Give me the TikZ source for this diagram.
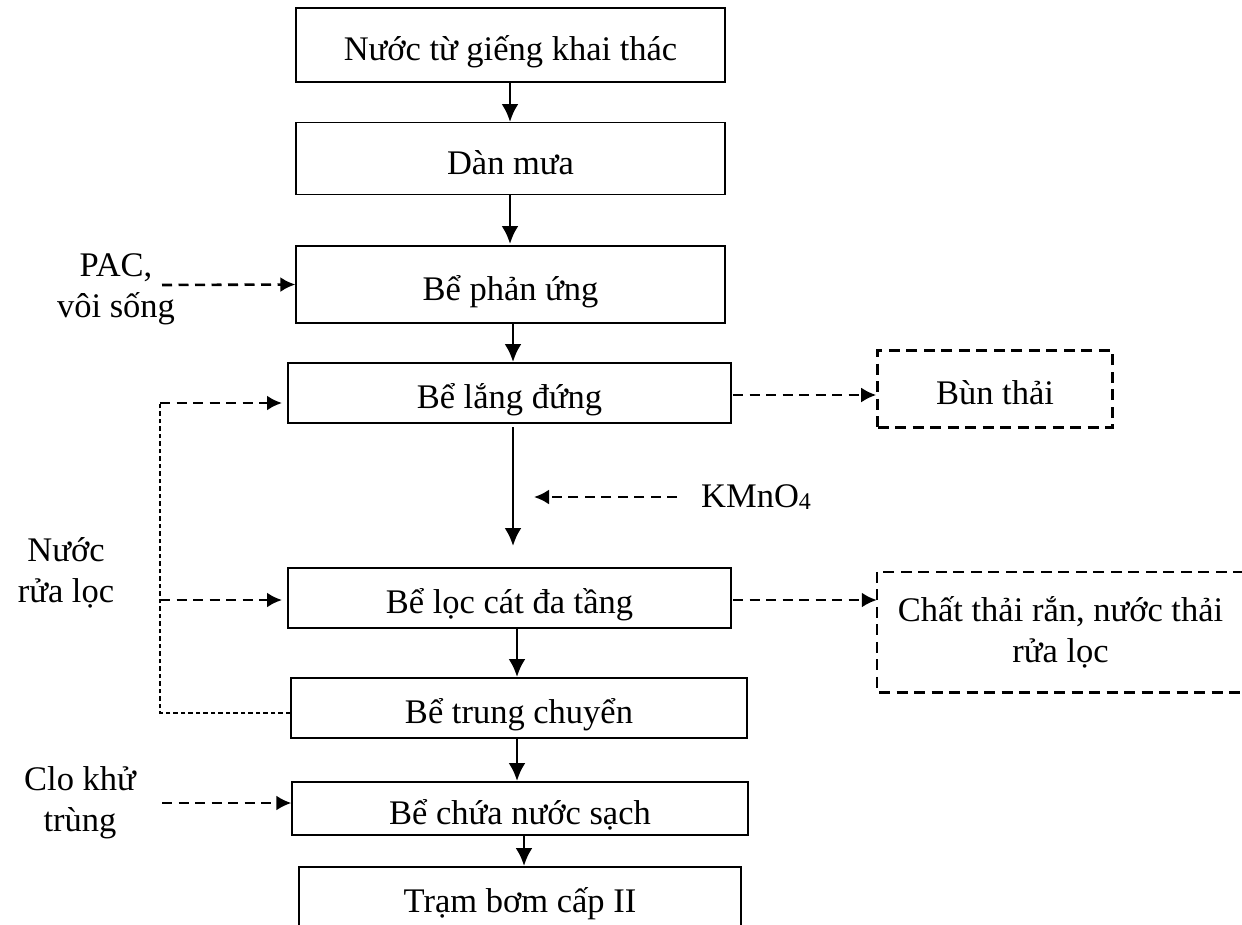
\documentclass[tikz,border=0pt]{standalone}
\usepackage{fontspec}
\setmainfont{Liberation Serif}
\usetikzlibrary{arrows.meta}
\tikzset{
  box/.style={draw, line width=1.3pt, inner sep=0pt, align=center, text height=40pt, text depth=9pt},
  wbox/.style={draw, line width=2.6pt, dash pattern=on 11pt off 6.5pt, inner sep=0pt, align=center, text height=40pt, text depth=9pt},
  flow/.style={line width=2.8pt, -{Latex[length=18pt,width=17pt]}},
  feed/.style={line width=2.6pt, dash pattern=on 10pt off 6.5pt, -{Latex[length=15pt,width=15pt]}},
  thin/.style={line width=1.2pt, dash pattern=on 4.5pt off 3pt},
  lbl/.style={align=center, inner sep=0pt},
}
\begin{document}
\begin{tikzpicture}[x=1pt,y=-1pt,font=\fontsize{34.5}{41}\selectfont]
\useasboundingbox (0,0) rectangle (1242,924);
\node[box, minimum width=429pt, minimum height=74pt] (b1) at (510.5,45) {Nước từ giếng khai thác};
\node[box, minimum width=429pt, minimum height=72pt] (b2) at (510.5,158.5) {Dàn mưa};
\node[box, minimum width=429pt, minimum height=77pt] (b3) at (510.5,284.5) {Bể phản ứng};
\node[box, minimum width=443pt, minimum height=60pt] (b4) at (509.5,393) {Bể lắng đứng};
\node[box, minimum width=443pt, minimum height=60pt] (b5) at (509.5,598) {Bể lọc cát đa tầng};
\node[box, minimum width=456pt, minimum height=60pt] (b6) at (519,708) {Bể trung chuyển};
\node[box, minimum width=456pt, minimum height=53pt] (b7) at (520,808.5) {Bể chứa nước sạch};
\node[box, minimum width=442pt, minimum height=60pt] (b8) at (520,897) {Trạm bơm cấp II};
\node[wbox, minimum width=235pt, minimum height=77pt] (w1) at (995,389) {Bùn thải};
\node[lbl, minimum width=367pt, minimum height=120pt] (w2) at (1060.5,632) {Chất thải rắn, nước thải\\rửa lọc};
\draw[line width=2.6pt, dash pattern=on 11pt off 6.5pt] (w2.north east) -- (w2.north west) -- (w2.south west) -- (w2.south east);
% labels
\node[lbl] (pac) at (116,289) {PAC,\\vôi sống};
\node[lbl] (nrl) at (66,573) {Nước\\rửa lọc};
\node[lbl] (clo) at (80,803) {Clo khử\\trùng};
\node[lbl, anchor=west] (kmn) at (701,497) {KMnO{\fontsize{24}{28}\selectfont\raisebox{-1.5pt}{4}}};
% main flow
\draw[flow] (510,82) -- (510,122);
\draw[flow] (510,195) -- (510,244);
\draw[flow] (513,323) -- (513,362);
\coordinate (a5) at (513,546);
\draw[flow] (513,427) -- (a5);
\draw[flow] (517,628) -- (517,677);
\draw[flow] (517,738) -- (517,781);
\draw[flow] (524,835) -- (524,866);
% feeds
\draw[feed] (162,285) -- (b3.west);
\coordinate (k1) at (677,497);
\coordinate (k2) at (534,497);
\draw[feed] (k1) -- (k2);
\coordinate (s1) at (733,395);
\coordinate (s2) at (733,600);
\coordinate (c1) at (162,803);
\draw[feed] (s1) -- (w1.west |- s1);
\draw[feed] (s2) -- (w2.west |- s2);
\draw[feed] (c1) -- (b7.west |- c1);
% recycle loop
\coordinate (l1) at (160,403);
\coordinate (l2) at (160,600);
\coordinate (l3) at (160,713);
\draw[thin] (b6.west |- l3) -- (l3) -- (l1);
\draw[feed] (l1) -- (282,403);
\draw[feed] (l2) -- (282,600);
\end{tikzpicture}
\end{document}
